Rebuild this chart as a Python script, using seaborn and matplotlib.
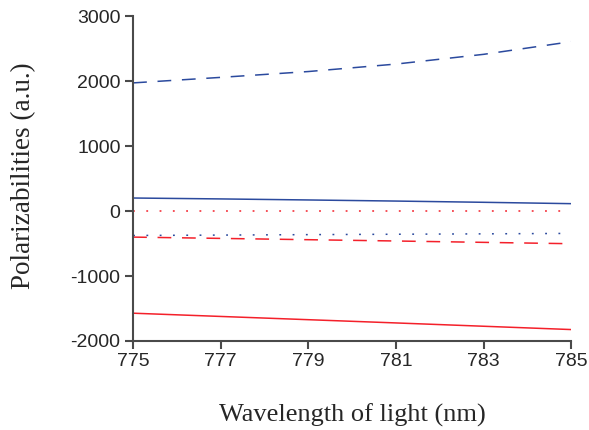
import matplotlib
matplotlib.use("Agg")
import matplotlib.pyplot as plt
import seaborn as sns
import pandas as pd

# Wavelength grid (nm)
wavelength = [775, 777, 779, 781, 783, 785]

# Polarizabilities (a.u.) for each component
blue_dashed = [1975, 2060, 2150, 2265, 2415, 2610]
blue_solid = [202, 188, 172, 155, 136, 115]
red_dotted = [0, 0, 0, 0, 0, 0]
blue_dotted = [-375, -369, -362, -356, -350, -343]
red_dashed = [-400, -420, -440, -460, -481, -502]
red_solid = [-1572, -1622, -1672, -1722, -1773, -1824]

BLUE = "#2b4a9e"
RED = "#f4202a"

DASH = (0, (9, 7))
DOT = (0, (1.2, 7.5))

series = [
    (blue_dashed, BLUE, DASH),
    (blue_solid, BLUE, "-"),
    (red_dotted, RED, DOT),
    (blue_dotted, BLUE, DOT),
    (red_dashed, RED, DASH),
    (red_solid, RED, "-"),
]

sns.set_style("ticks")
plt.rcParams["axes.unicode_minus"] = False
fig, ax = plt.subplots(figsize=(5.89, 4.30), dpi=100)
fig.subplots_adjust(left=0.226, right=0.970, bottom=0.207, top=0.962)

for values, color, style in series:
    df = pd.DataFrame({"wl": wavelength, "val": values})
    sns.lineplot(data=df, x="wl", y="val", ax=ax, color=color,
                 linestyle=style, linewidth=1.1)

ax.set_xlim(775, 785)
ax.set_ylim(-2000, 3000)
ax.set_xticks([775, 777, 779, 781, 783, 785])
ax.set_yticks([-2000, -1000, 0, 1000, 2000, 3000])

sns.despine(ax=ax)
for side in ("left", "bottom"):
    ax.spines[side].set_color("#4a4a4a")
    ax.spines[side].set_linewidth(1.5)
ax.tick_params(axis="both", direction="out", length=6, width=1.5,
               color="#4a4a4a", labelsize=14, pad=3)
for lab in ax.get_xticklabels() + ax.get_yticklabels():
    lab.set_family("Liberation Sans")

ax.set_xlabel("Wavelength of light (nm)", family="Liberation Serif",
              fontsize=19, labelpad=24)
ax.set_ylabel("Polarizabilities (a.u.)", family="Liberation Serif",
              fontsize=19.5, labelpad=24)
ax.yaxis.set_label_coords(-0.222, 0.51)

fig.savefig("out.png", dpi=100)
